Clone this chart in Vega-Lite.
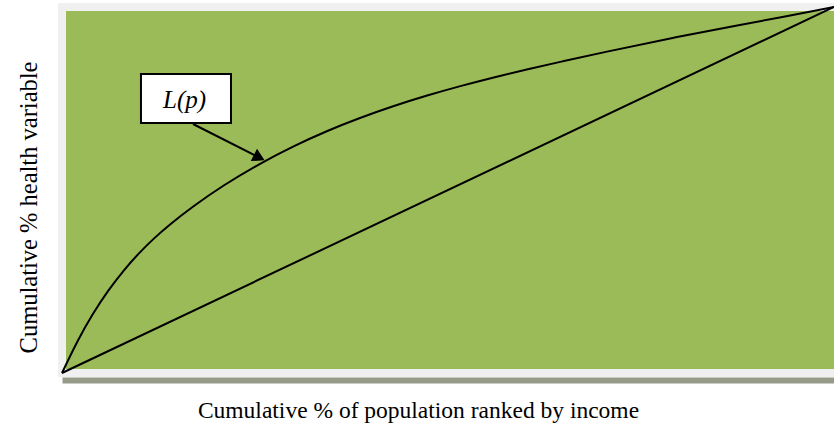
{
  "$schema": "https://vega.github.io/schema/vega-lite/v6.json",
  "width": 776,
  "height": 366,
  "autosize": {"type": "none"},
  "padding": {"left": 62, "top": 7, "right": -4, "bottom": 53},
  "background": "white",
  "config": {
    "view": {"fill": "#9bbb59", "stroke": "#f0f0f0", "strokeWidth": 8},
    "font": "Liberation Serif"
  },
  "datasets": {
    "curves": [
      {"series": "L(p)", "p": 0, "L": 0},
      {"series": "L(p)", "p": 2, "L": 8.6},
      {"series": "L(p)", "p": 4, "L": 16.1},
      {"series": "L(p)", "p": 6, "L": 22.5},
      {"series": "L(p)", "p": 8, "L": 28.0},
      {"series": "L(p)", "p": 10, "L": 32.76},
      {"series": "L(p)", "p": 12, "L": 36.92},
      {"series": "L(p)", "p": 14, "L": 40.6},
      {"series": "L(p)", "p": 17, "L": 45.49},
      {"series": "L(p)", "p": 21, "L": 51.29},
      {"series": "L(p)", "p": 25.6, "L": 57.09},
      {"series": "L(p)", "p": 30, "L": 61.93},
      {"series": "L(p)", "p": 34.3, "L": 66.06},
      {"series": "L(p)", "p": 38.6, "L": 69.67},
      {"series": "L(p)", "p": 42.9, "L": 72.87},
      {"series": "L(p)", "p": 47.3, "L": 75.8},
      {"series": "L(p)", "p": 51.6, "L": 78.38},
      {"series": "L(p)", "p": 55.8, "L": 80.69},
      {"series": "L(p)", "p": 60.2, "L": 82.93},
      {"series": "L(p)", "p": 65, "L": 85.23},
      {"series": "L(p)", "p": 70.6, "L": 87.81},
      {"series": "L(p)", "p": 79.1, "L": 91.55},
      {"series": "L(p)", "p": 87.8, "L": 95.1},
      {"series": "L(p)", "p": 94, "L": 97.55},
      {"series": "L(p)", "p": 100, "L": 100},
      {"series": "equality", "p": 0, "L": 0},
      {"series": "equality", "p": 100, "L": 100}
    ],
    "labelbox": [
      {"label": "L(p)", "x1": 10.23, "x2": 21.89, "y1": 68.31, "y2": 81.69, "tx": 15.87, "ty": 72.4}
    ],
    "arrow": [
      {"x1": 16.97, "y1": 68.03, "x2": 25.55, "y2": 58.85}
    ]
  },
  "layer": [
    {
      "data": {"name": "curves"},
      "mark": {"type": "line", "interpolate": "natural", "color": "black", "strokeWidth": 2},
      "encoding": {
        "x": {
          "field": "p", "type": "quantitative",
          "scale": {"domain": [0, 100.518], "nice": false},
          "axis": {
            "title": "Cumulative % of population ranked by income",
            "domain": true, "domainColor": "#969a88", "domainWidth": 6, "offset": 7,
            "ticks": false, "labels": false, "grid": false,
            "titleFont": "Liberation Serif", "titleFontSize": 23.5, "titleFontWeight": "normal",
            "titleColor": "black", "titleX": 356, "titleY": 37,
            "titleBaseline": "alphabetic", "titleAlign": "center"
          }
        },
        "y": {
          "field": "L", "type": "quantitative",
          "scale": {"domain": [0, 100], "nice": false},
          "axis": {
            "title": "Cumulative % health variable",
            "domain": false, "ticks": false, "labels": false, "grid": false,
            "titleFont": "Liberation Serif", "titleFontSize": 24.5, "titleFontWeight": "normal",
            "titleColor": "black", "titleAngle": -90, "titleX": -26, "titleY": 200,
            "titleBaseline": "alphabetic", "titleAlign": "center"
          }
        },
        "detail": {"field": "series"}
      }
    },
    {
      "data": {"name": "arrow"},
      "mark": {"type": "rule", "color": "black", "strokeWidth": 2},
      "encoding": {
        "x": {"field": "x1", "type": "quantitative"},
        "y": {"field": "y1", "type": "quantitative"},
        "x2": {"field": "x2"},
        "y2": {"field": "y2"}
      }
    },
    {
      "data": {"name": "arrow"},
      "mark": {"type": "point", "shape": "triangle-right", "angle": 26.6, "size": 190, "filled": true, "color": "black", "opacity": 1},
      "encoding": {
        "x": {"field": "x2", "type": "quantitative"},
        "y": {"field": "y2", "type": "quantitative"}
      }
    },
    {
      "data": {"name": "labelbox"},
      "mark": {"type": "rect", "fill": "white", "stroke": "black", "strokeWidth": 2},
      "encoding": {
        "x": {"field": "x1", "type": "quantitative"},
        "x2": {"field": "x2"},
        "y": {"field": "y1", "type": "quantitative"},
        "y2": {"field": "y2"}
      }
    },
    {
      "data": {"name": "labelbox"},
      "mark": {"type": "text", "font": "Liberation Serif", "fontSize": 25, "fontStyle": "italic", "color": "black", "align": "center", "baseline": "alphabetic"},
      "encoding": {
        "x": {"field": "tx", "type": "quantitative"},
        "y": {"field": "ty", "type": "quantitative"},
        "text": {"field": "label"}
      }
    }
  ]
}
